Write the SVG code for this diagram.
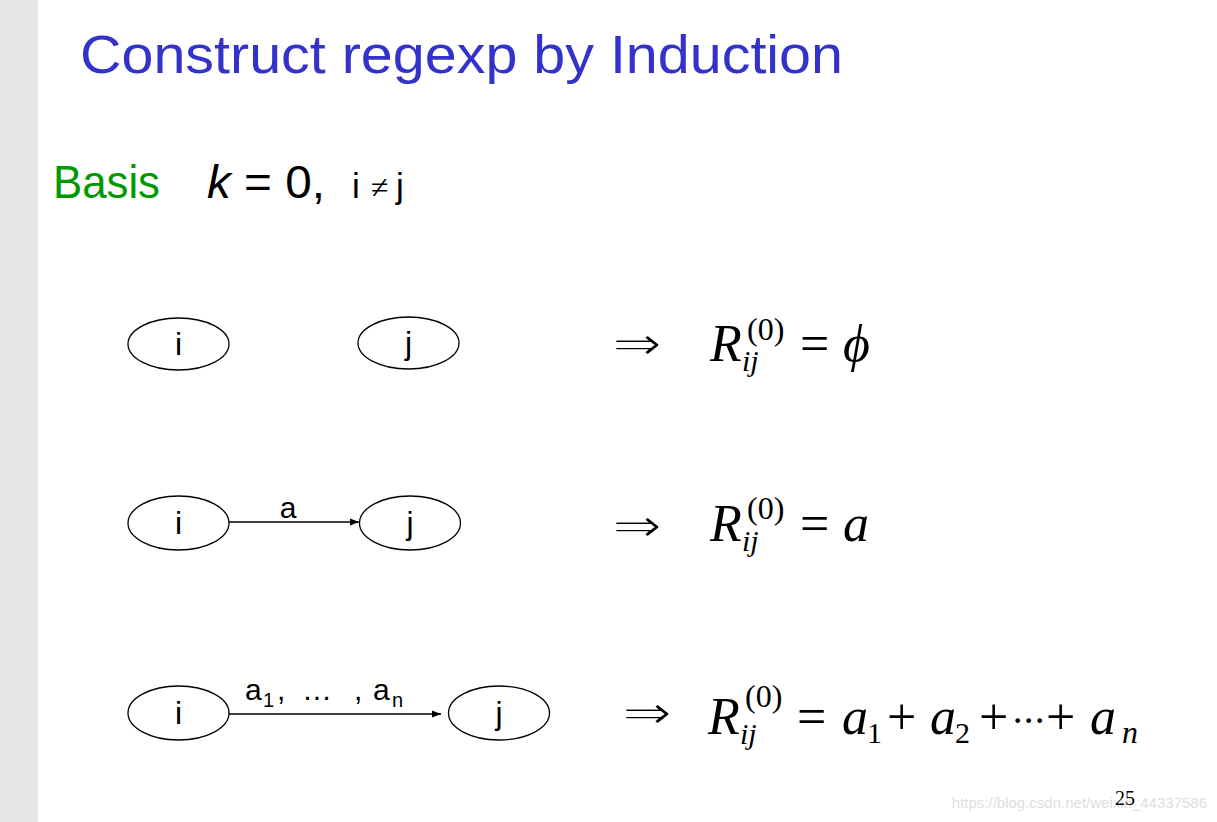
<svg xmlns="http://www.w3.org/2000/svg" width="1217" height="822" viewBox="0 0 1217 822">
<defs>
<style>
.sans{font-family:"Liberation Sans","DejaVu Sans",sans-serif}
.serif{font-family:"Liberation Serif","DejaVu Serif",serif}
.node ellipse{fill:#fff;stroke:#000;stroke-width:1.3}
.node text{font-family:"Liberation Sans","DejaVu Sans",sans-serif;font-size:32px;fill:#000;text-anchor:middle}
.edge{stroke:#000;stroke-width:1.3;fill:none;marker-end:url(#arr)}
.lbl{font-family:"Liberation Sans","DejaVu Sans",sans-serif;fill:#000}
.m{font-family:"Liberation Serif","DejaVu Serif",serif;fill:#000}
.it{font-style:italic}
.imp{font-family:"DejaVu Sans","Liberation Serif",sans-serif;fill:#000;stroke:#fff;stroke-width:1.4}
</style>
<marker id="arr" viewBox="0 0 10 10" refX="10" refY="5" markerWidth="9" markerHeight="9" markerUnits="userSpaceOnUse" orient="auto">
<path d="M0,1 L10,5 L0,9 z" fill="#000"/>
</marker>
</defs>
<rect x="0" y="0" width="1217" height="822" fill="#fff"/>
<rect x="0" y="0" width="38" height="822" fill="#e6e6e6"/>

<text class="sans" x="80" y="73" font-size="54" fill="#3333cc" textLength="763" lengthAdjust="spacingAndGlyphs">Construct regexp by Induction</text>

<text class="sans" x="53" y="198" font-size="46" fill="#009900" textLength="107" lengthAdjust="spacingAndGlyphs">Basis</text>
<text class="sans" x="207" y="198" font-size="46" fill="#000" textLength="118" lengthAdjust="spacingAndGlyphs"><tspan font-style="italic">k</tspan> = 0,</text>
<text class="sans" y="198" font-size="35" fill="#000"><tspan x="352">i</tspan><tspan class="serif" font-size="32" x="371">≠</tspan><tspan x="396">j</tspan></text>

<g id="connectors">
<line class="edge" x1="229" y1="522" x2="359" y2="522"/>
<line class="edge" x1="229" y1="714" x2="441" y2="714"/>
<text class="lbl" x="288" y="518" font-size="30" text-anchor="middle">a</text>
<text class="lbl" font-size="30" y="700"><tspan x="245">a</tspan><tspan x="263" y="707" font-size="20">1</tspan><tspan x="277" y="700">,</tspan><tspan x="302">…</tspan><tspan x="354">,</tspan><tspan x="373">a</tspan><tspan x="392" y="707" font-size="20">n</tspan></text>
</g>

<g id="node-i1" class="node"><ellipse cx="178.5" cy="344" rx="50.5" ry="26"/><text x="178.5" y="355">i</text></g>
<g id="node-j1" class="node"><ellipse cx="408.5" cy="343" rx="50.5" ry="26"/><text x="408.5" y="354">j</text></g>
<g id="node-i2" class="node"><ellipse cx="178.5" cy="523" rx="50.5" ry="27"/><text x="178.5" y="534">i</text></g>
<g id="node-j2" class="node"><ellipse cx="410" cy="523" rx="50.5" ry="27"/><text x="410" y="534">j</text></g>
<g id="node-i3" class="node"><ellipse cx="178.5" cy="713" rx="50.5" ry="27"/><text x="178.5" y="724">i</text></g>
<g id="node-j3" class="node"><ellipse cx="499" cy="713" rx="50.5" ry="27"/><text x="499" y="724">j</text></g>

<g id="formula1">
<text class="imp" x="612" y="360" font-size="48" textLength="50" lengthAdjust="spacingAndGlyphs">⇒</text>
<text class="m it" x="710" y="361" font-size="52">R</text>
<text class="m" x="747" y="340" font-size="32">(0)</text>
<text class="m it" x="742" y="371" font-size="30">ij</text>
<text class="m" x="800" y="361" font-size="52">=</text>
<text class="m it" x="843" y="361" font-size="52">ϕ</text>
</g>

<g id="formula2">
<text class="imp" x="612" y="542" font-size="48" textLength="50" lengthAdjust="spacingAndGlyphs">⇒</text>
<text class="m it" x="710" y="541" font-size="52">R</text>
<text class="m" x="747" y="519" font-size="32">(0)</text>
<text class="m it" x="742" y="551" font-size="30">ij</text>
<text class="m" x="800" y="541" font-size="52">=</text>
<text class="m it" x="843" y="541" font-size="52">a</text>
</g>

<g id="formula3">
<text class="imp" x="622" y="729" font-size="48" textLength="50" lengthAdjust="spacingAndGlyphs">⇒</text>
<text class="m it" x="708" y="734" font-size="52">R</text>
<text class="m" x="745" y="707" font-size="32">(0)</text>
<text class="m it" x="740" y="744" font-size="30">ij</text>
<text class="m" x="797" y="734" font-size="52">=</text>
<text class="m it" x="842" y="734" font-size="52">a</text>
<text class="m" x="867" y="743" font-size="30">1</text>
<text class="m" x="887" y="734" font-size="52">+</text>
<text class="m it" x="930" y="734" font-size="52">a</text>
<text class="m" x="955" y="743" font-size="30">2</text>
<text class="m" x="979" y="734" font-size="52">+</text>
<text class="m" y="734" font-size="40"><tspan x="1011">·</tspan><tspan x="1022">·</tspan><tspan x="1033">·</tspan></text>
<text class="m" x="1046" y="734" font-size="52">+</text>
<text class="m it" x="1090" y="734" font-size="52">a</text>
<text class="m it" x="1122" y="743" font-size="32">n</text>
</g>

<text x="1207" y="808" font-family="Liberation Sans, sans-serif" font-size="15" fill="#dedede" text-anchor="end">https://blog.csdn.net/weixin_44337586</text>
<text class="m" x="1115" y="805" font-size="20">25</text>
</svg>
